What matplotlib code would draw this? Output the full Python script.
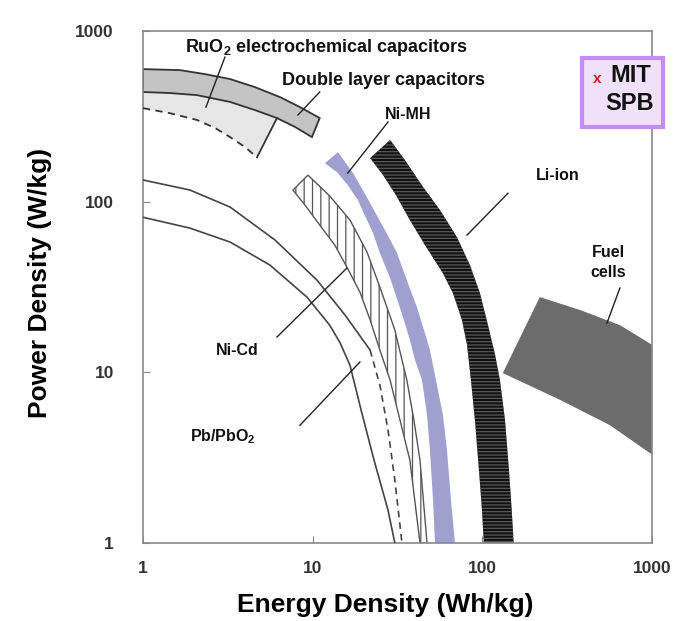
import matplotlib.pyplot as plt
from matplotlib.patches import Rectangle
import numpy as np

plt.rcParams['font.family'] = ['Liberation Sans', 'DejaVu Sans']
plt.rcParams['mathtext.fontset'] = 'custom'
plt.rcParams['mathtext.rm'] = 'Liberation Sans:bold'
plt.rcParams['mathtext.default'] = 'rm'
plt.rcParams['hatch.linewidth'] = 0.9

# energy density (Wh/kg) / power density (W/kg)
ruo2_top_e = [1, 1.65, 2.32, 3.26, 4.57, 6.42, 8.42, 11.0]
ruo2_top_p = [598, 590, 559, 523, 469, 410, 358, 309]
ruo2_bot_e = [1, 1.44, 2.08, 3.26, 4.57, 6.16, 7.87, 9.9]
ruo2_bot_p = [439, 433, 421, 384, 344, 309, 274, 239]

dl_top_e = [1, 1.44, 2.08, 3.26, 4.57, 6.16]
dl_top_p = [439, 433, 421, 384, 344, 309]
dl_edge_e = [6.16, 4.7]
dl_edge_p = [309, 182]
dl_dash_e = [1, 1.44, 2.08, 2.66, 3.26, 3.99, 4.7]
dl_dash_p = [353, 330, 301, 270, 239, 209, 182]

pb_inner_e = [1, 1.89, 3.26, 5.6, 9.25, 12.6, 14.5, 16.6, 19.3, 23.0, 27.8, 30.5]
pb_inner_p = [81, 70, 58, 42.5, 27.6, 18.9, 14.9, 11.0, 6.0, 3.06, 1.56, 1]
pb_outer_e = [1, 1.89, 3.26, 6.0, 10.6, 15.5, 21.8]
pb_outer_p = [134, 117, 93, 59.6, 34.7, 21.7, 13.5]
pb_dash_e = [21.8, 24.9, 27.8, 30.5, 33.6]
pb_dash_p = [13.5, 8.4, 4.6, 2.34, 1]

nicd_left_e = [7.65, 9.01, 11.0, 13.5, 15.9, 19.0, 21.8, 24.9, 28.6, 32.7, 37.4, 42.9]
nicd_left_p = [117, 95.5, 73, 55.7, 41.4, 29.5, 20.3, 13.5, 9.0, 5.26, 3.06, 1]
nicd_right_e = [9.38, 12.6, 16.6, 20.9, 24.9, 30.5, 35.9, 39.5, 42.9, 47.2]
nicd_right_p = [143, 108, 78, 50.7, 31.6, 17.7, 9.0, 5.26, 3.06, 1]

nimh_left_e = [11.8, 13.9, 16.1, 18.5, 20.3, 22.7, 24.9, 28.9, 33.6, 37.4,
               40.1, 44.1, 47.2, 49.1, 51.2, 52.6]
nimh_left_p = [168, 149, 125, 102, 83, 65.5, 50, 34.7, 22, 15.5,
               11.8, 9.0, 5.62, 3.5, 1.79, 1]
nimh_right_e = [14.1, 17.3, 20.9, 23.9, 26.7, 29.3, 31.4, 35.9, 41.2, 45.3,
                49.1, 53.3, 58.6, 61.9, 65.3, 69]
nimh_right_p = [195, 147, 106, 83, 68, 57.2, 50, 34.7, 24, 17.7,
                13.5, 9.0, 5.62, 3.5, 1.79, 1]

liion_left_e = [21.8, 26.0, 31.0, 37.4, 45.9, 58.6, 67.1, 75.8, 81.2, 85.7,
                90.4, 95.5, 99.5, 102]
liion_left_p = [180, 143, 109, 78, 55.7, 38, 29.1, 20.3, 14.5, 9.0,
                5.26, 2.68, 1.56, 1]
liion_right_e = [28.6, 35.0, 44.7, 56.3, 70.8, 84.5, 96.8, 108, 119, 127,
                 136, 143.5, 149, 153]
liion_right_p = [230, 175, 122, 89.3, 62, 42.5, 29.1, 18.9, 12.6, 9.0,
                 5.26, 2.68, 1.56, 1]

fuel_top_e = [218, 376, 647, 1000]
fuel_top_p = [27.6, 23.2, 18.9, 14.5]
fuel_bot_e = [132, 287, 565, 1000]
fuel_bot_p = [9.9, 6.9, 4.9, 3.3]

# labels: text, (e, p) of text, align, size, leader start, leader end
labels = [
    ('RuO$_2$ electrochemical capacitors', (1.77, 805), 'left', 13,
     (3.04, 703), (2.35, 358)),
    ('Double layer capacitors', (6.59, 516), 'left', 13,
     (11.0, 439), (8.19, 322)),
    ('Ni-MH', (36.4, 322), 'center', 11.5, (27.8, 293), (16.1, 147)),
    ('Li-ion', (279, 143), 'center', 11.5, (141.6, 112), (81.2, 63.7)),
    ('Ni-Cd', (3.58, 13.5), 'center', 11.5, (6.16, 16.1), (15.9, 40.8)),
    ('Pb/PbO$_2$', (2.96, 4.18), 'center', 11.5, (8.42, 4.9), (19.0, 11.5)),
    ('Fuel\ncells', (555, 44), 'center', 11.5, (647, 31.2), (542, 19.4)),
]


def band(ax, e1, p1, e2, p2, **kw):
    e = np.concatenate([e1, e2[::-1]])
    p = np.concatenate([p1, p2[::-1]])
    return ax.fill(e, p, **kw)


fig = plt.figure(figsize=(6.77, 6.21), dpi=100)
ax = fig.add_axes([143 / 677, 78 / 621, 509 / 677, 512 / 621])
ax.set_xscale('log')
ax.set_yscale('log')
ax.set_xlim(1, 1000)
ax.set_ylim(1, 1000)

# double layer capacitors
band(ax, dl_top_e + dl_edge_e[1:], dl_top_p + dl_edge_p[1:],
     dl_dash_e, dl_dash_p, facecolor='#e6e6e6', edgecolor='none', zorder=1)
ax.plot(dl_edge_e, dl_edge_p, color='#333333', lw=1.3, zorder=3)
ax.plot(dl_dash_e, dl_dash_p, color='#333333', lw=1.3, ls=(0, (4, 3)), zorder=3)

# RuO2
band(ax, ruo2_top_e, ruo2_top_p, ruo2_bot_e, ruo2_bot_p,
     facecolor='#c4c4c4', edgecolor='#333333', lw=1.3, zorder=2)

# Pb/PbO2
ax.plot(pb_inner_e, pb_inner_p, color='#444444', lw=1.2, zorder=3)
ax.plot(pb_outer_e, pb_outer_p, color='#444444', lw=1.2, zorder=3)
ax.plot(pb_dash_e, pb_dash_p, color='#444444', lw=1.2, ls=(0, (4, 3)), zorder=3)

# Ni-Cd hatched
band(ax, nicd_left_e, nicd_left_p, nicd_right_e, nicd_right_p,
     facecolor='white', edgecolor='#555555', hatch='||', lw=1.0, zorder=2)

# Ni-MH
band(ax, nimh_left_e, nimh_left_p, nimh_right_e, nimh_right_p,
     facecolor='#a0a0d0', edgecolor='none', zorder=2)

# Li-ion
band(ax, liion_left_e, liion_left_p, liion_right_e, liion_right_p,
     facecolor='#111111', edgecolor='none', zorder=2)
band(ax, liion_left_e, liion_left_p, liion_right_e, liion_right_p,
     facecolor='none', edgecolor='#5a5a5a', hatch='-----', lw=0, zorder=2)

# fuel cells
band(ax, fuel_top_e, fuel_top_p, fuel_bot_e, fuel_bot_p,
     facecolor='#6c6c6c', edgecolor='none', zorder=2)

for text, pos, ha, size, l0, l1 in labels:
    ax.text(pos[0], pos[1], text, ha=ha, va='center', fontsize=size,
            fontweight='bold', color='#111111', linespacing=1.4, zorder=5)
    ax.plot([l0[0], l1[0]], [l0[1], l1[1]], color='#222222', lw=1.0, zorder=4)

for s in ax.spines.values():
    s.set_color('#888888')
    s.set_linewidth(1.2)
ax.minorticks_off()
ax.set_xticks([1, 10, 100, 1000])
ax.set_yticks([1, 10, 100, 1000])
ax.set_xticklabels(['1', '10', '100', '1000'], fontweight='bold')
ax.set_yticklabels(['1', '10', '100', '1000'], fontweight='bold')
ax.tick_params(axis='both', direction='in', length=5, color='#888888',
               labelsize=12.5, labelcolor='#333333')
ax.tick_params(axis='y', pad=21)
ax.tick_params(axis='x', pad=13)

ax.set_xlabel('Energy Density (Wh/kg)', fontsize=19, fontweight='bold', va='center')
ax.xaxis.set_label_coords((385 - 143) / 509, (543 - 605) / 512)
ax.set_ylabel('Power Density (W/kg)', fontsize=19, fontweight='bold', va='center')
ax.yaxis.set_label_coords((40 - 143) / 509, (543 - 283) / 512)

# MIT SPB box
fig.patches.append(Rectangle((582 / 677, 1 - 127 / 621), 81 / 677, 69 / 621,
                             transform=fig.transFigure, facecolor='#efe2f8',
                             edgecolor='#c38ef0', lw=3, zorder=10))
fig.text(597 / 677, 1 - 79 / 621, 'x', color='#e0102a', fontsize=11,
         fontweight='bold', ha='center', va='center', zorder=11)
fig.text(631 / 677, 1 - 76 / 621, 'MIT', color='#111111', fontsize=17,
         fontweight='bold', ha='center', va='center', zorder=11)
fig.text(630 / 677, 1 - 104 / 621, 'SPB', color='#111111', fontsize=17,
         fontweight='bold', ha='center', va='center', zorder=11)

plt.savefig('out.png', dpi=100)
